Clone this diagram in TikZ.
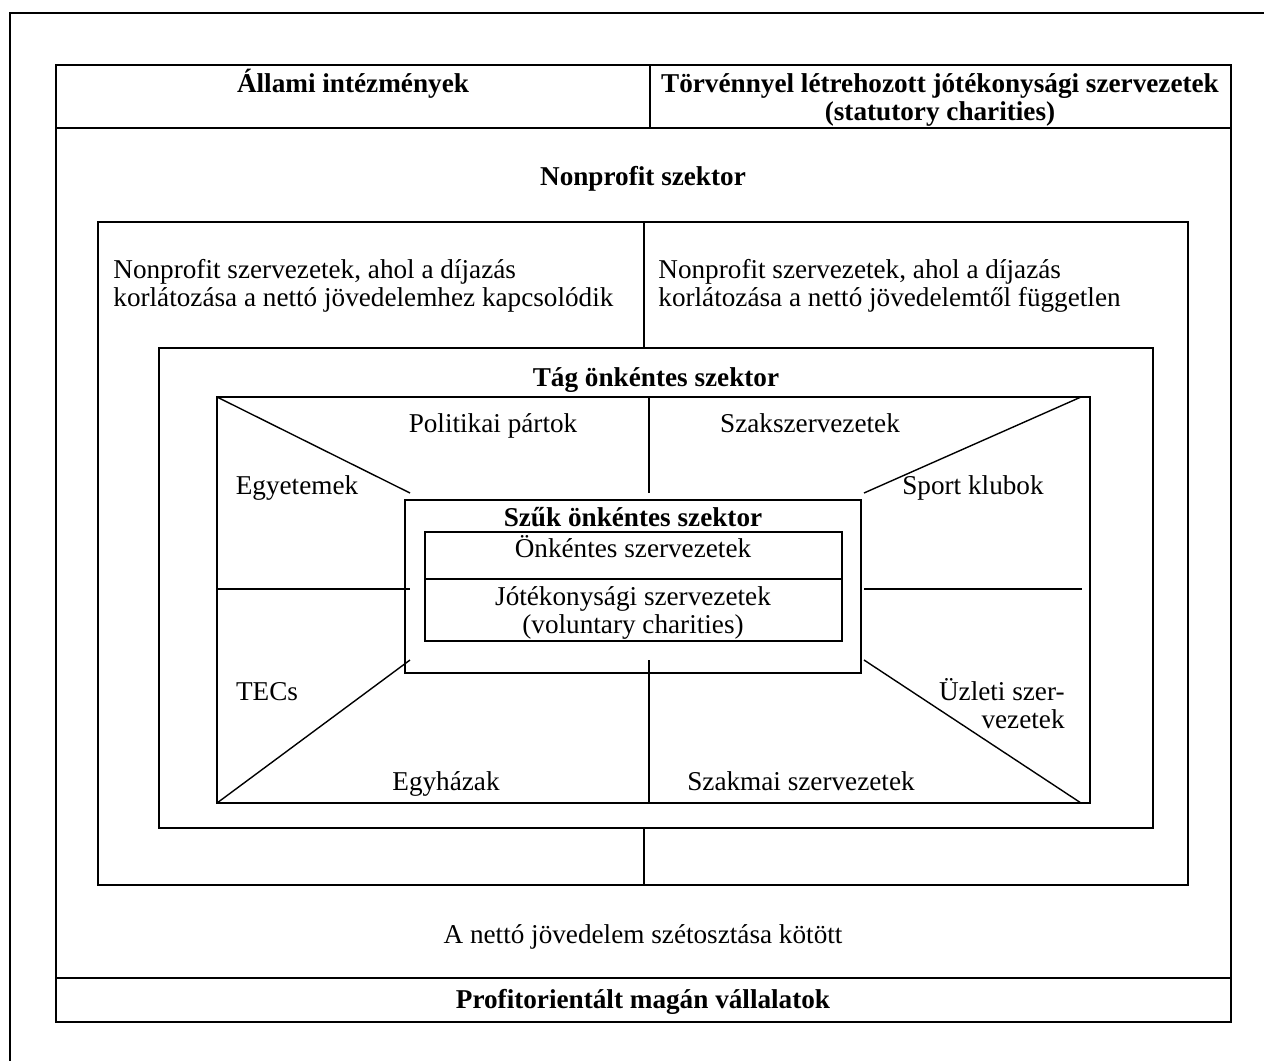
\documentclass[tikz,border=0pt]{standalone}
\usepackage{fontspec}
\setmainfont{Liberation Serif}
\usetikzlibrary{positioning,calc}

\newcommand\diagfont{\fontsize{13.6}{14}\selectfont}
\tikzset{
  frame/.style={line width=1.1pt},
  sectorbox/.style={line width=0.85pt},
  divider/.style={line width=0.7pt},
  lbl/.style={inner sep=0pt,anchor=base,font=\diagfont},
  head/.style={lbl,font=\diagfont\bfseries},
}

\begin{document}
\begin{tikzpicture}[x=0.5pt,y=-0.5pt]
  % canvas in px of the 1264x1061 sheet, 1px = 0.5pt, y runs downwards
  \useasboundingbox (0,0) rectangle (1264,1061);
  % page frame: only the top and left edges are on the sheet
  \coordinate (frTL) at (10,13);
  \coordinate (frTR) at (1264,13);
  \coordinate (frBL) at (10,1061);
  \draw[frame] (frTR) -- (frTL) -- (frBL);

  % main table: header row, body, profit row
  \coordinate (tabNW) at (56,65);   \coordinate (tabSE) at (1231,1022);
  \draw[frame] (tabNW) rectangle (tabSE);
  \coordinate (hdW) at (56,128);    \coordinate (hdE) at (1231,128);
  \coordinate (hdN) at (650,65);    \coordinate (hdS) at (650,128);
  \coordinate (prW) at (56,978);    \coordinate (prE) at (1231,978);
  \draw[frame] (hdW) -- (hdE) (hdN) -- (hdS) (prW) -- (prE);

  % nonprofit box and broad voluntary box
  \coordinate (npNW) at (98,222);   \coordinate (npSE) at (1188,885);
  \coordinate (tgNW) at (159,348);  \coordinate (tgSE) at (1153,828);
  \draw[sectorbox] (npNW) rectangle (npSE);
  \draw[sectorbox] (tgNW) rectangle (tgSE);
  \coordinate (npN) at (644,222);   \coordinate (tgN) at (644,348);
  \coordinate (tgS) at (644,828);   \coordinate (npS) at (644,885);
  \draw[sectorbox] (npN) -- (tgN) (tgS) -- (npS);

  % field of the broad sector, cut by diagonals
  \coordinate (fdNW) at (217,397);  \coordinate (fdSE) at (1090,803);
  \coordinate (fdNE) at (1081,397); \coordinate (fdSW) at (217,803);
  \coordinate (fdSEd) at (1081,803);
  \draw[divider] (fdNW) rectangle (fdSE);

  % narrow voluntary box with its two rows
  \coordinate (szNW) at (405,500);  \coordinate (szSE) at (861,673);
  \draw[sectorbox] (szNW) rectangle (szSE);
  \coordinate (rwNW) at (425,532);  \coordinate (rwSE) at (842,641);
  \coordinate (rwW) at (425,579);   \coordinate (rwE) at (842,579);
  \draw[sectorbox] (rwNW) rectangle (rwSE) (rwW) -- (rwE);

  % spokes from the field to the narrow box
  \coordinate (spNW) at (410,493);  \coordinate (spNE) at (864,493);
  \coordinate (spSW) at (410,660);  \coordinate (spSE) at (864,660);
  \coordinate (spW) at (410,589);   \coordinate (spE) at (864,589);
  \coordinate (lnW) at (217,589);   \coordinate (lnE) at (1082,589);
  \coordinate (spN) at (649,493);   \coordinate (spS) at (649,660);
  \coordinate (lnN) at (649,397);   \coordinate (lnS) at (649,803);
  \draw[divider] (fdNW) -- (spNW) (fdNE) -- (spNE) (fdSW) -- (spSW) (fdSEd) -- (spSE);
  \draw[divider] (lnW) -- (spW) (spE) -- (lnE) (lnN) -- (spN) (spS) -- (lnS);

  % labels (multi-line nodes sit on the baseline of their last line)
  \node[head] (allami) at (353,92) {Állami intézmények};
  \node[head,align=center] (torveny) at (940,120) {Törvénnyel létrehozott jótékonysági szervezetek\\(statutory charities)};
  \node[head] (npszek) at (643,185) {Nonprofit szektor};
  \node[lbl,anchor=base west,align=left] (npbal) at (113,306) {Nonprofit szervezetek, ahol a díjazás\\korlátozása a nettó jövedelemhez kapcsolódik};
  \node[lbl,anchor=base west,align=left] (npjobb) at (658,306) {Nonprofit szervezetek, ahol a díjazás\\korlátozása a nettó jövedelemtől független};
  \node[head] (tag) at (656,386) {Tág önkéntes szektor};
  \node[lbl] (polit) at (493,432) {Politikai pártok};
  \node[lbl] (szaksz) at (810,432) {Szakszervezetek};
  \node[lbl] (egyet) at (297,494) {Egyetemek};
  \node[lbl] (sport) at (973,494) {Sport klubok};
  \node[head] (szuk) at (633,526) {Szűk önkéntes szektor};
  \node[lbl] (onk) at (633,557) {Önkéntes szervezetek};
  \node[lbl,align=center] (jotek) at (633,633) {Jótékonysági szervezetek\\(voluntary charities)};
  \node[lbl] (tecs) at (267,700) {TECs};
  \node[lbl,anchor=base east,align=right] (uzleti) at (1065,728) {Üzleti szer-\\vezetek};
  \node[lbl] (egyhaz) at (446,790) {Egyházak};
  \node[lbl] (szakmai) at (801,790) {Szakmai szervezetek};
  \node[lbl] (netto) at (643,943) {A nettó jövedelem szétosztása kötött};
  \node[head] (profit) at (643,1008) {Profitorientált magán vállalatok};
\end{tikzpicture}
\end{document}
